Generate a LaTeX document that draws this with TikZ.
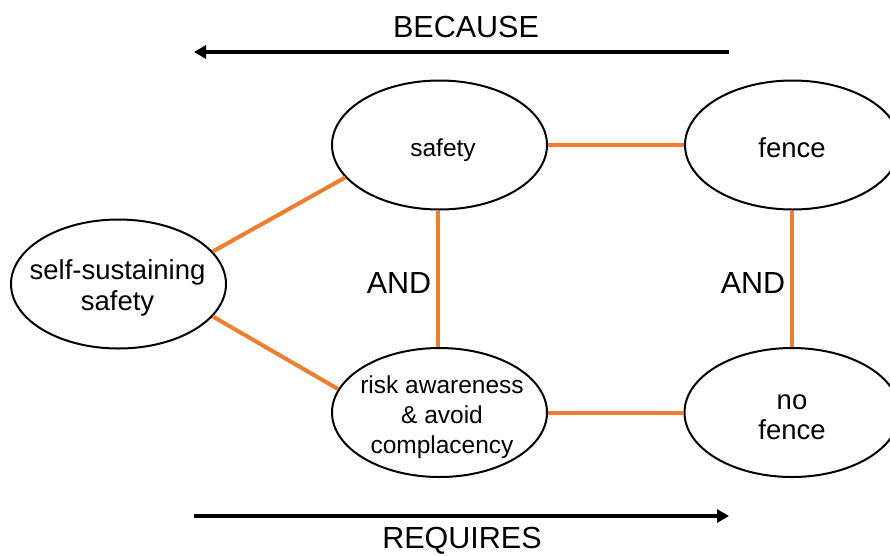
\documentclass[tikz,border=0pt]{standalone}
\usepackage{fontspec}
\setmainfont{Liberation Sans}
\usetikzlibrary{shapes.geometric,arrows.meta}
\definecolor{linkorange}{HTML}{ED7D31}
\begin{document}
\begin{tikzpicture}[x=1pt,y=-1pt,
  oval/.style={ellipse,draw=black,line width=2pt,inner sep=0pt,minimum width=215pt,minimum height=129pt},
  ovaltext/.style={inner sep=0pt,align=center},
  link/.style={draw=linkorange,line width=4pt},
  dirarrow/.style={draw=black,line width=4pt,-{Triangle[length=12pt,width=13pt]}},
  lbl/.style={inner sep=0pt,font=\fontsize{30.5}{34}\selectfont}]
\useasboundingbox (0,0) rectangle (890,555);
\node[oval] (safety) at (439.5,145) {};
\node[oval] (fence) at (792.5,145) {};
\node[oval] (self) at (118.5,284) {};
\node[oval] (risk) at (439.5,412.5) {};
\node[oval] (nofence) at (792,412.5) {};
\node[ovaltext,font=\fontsize{24.5}{29}\selectfont] (tsafety) at (443,150) {safety};
\node[ovaltext,font=\fontsize{27.5}{31}\selectfont] (tfence) at (792,148) {fence};
\node[ovaltext,font=\fontsize{27.5}{31}\selectfont] (tself) at (117.5,287.5) {self-sustaining\\safety};
\node[ovaltext,font=\fontsize{24.5}{30}\selectfont] (trisk) at (442,417) {risk awareness\\\& avoid\\complacency};
\node[ovaltext,font=\fontsize{27.5}{30}\selectfont] (tnofence) at (792,417) {no\\fence};
\draw[link] (self.19) -- (safety.199);
\draw[link] (self.-19.4) -- (risk.167);
\draw[link] (safety.east |- 0,145) -- (fence.west |- 0,145);
\draw[link] (safety.south -| 438,0) -- (risk.north -| 438,0);
\draw[link] (fence.south -| 792,0) -- (nofence.north -| 792,0);
\draw[link] (risk.east |- 0,413) -- (nofence.west |- 0,413);
\node[lbl] (andl) at (399,283) {AND};
\node[lbl] (andr) at (753,283) {AND};
\coordinate (b1) at (729,52);
\coordinate (b2) at (194,52);
\coordinate (r1) at (194,516);
\coordinate (r2) at (729,516);
\draw[dirarrow] (b1) -- (b2);
\draw[dirarrow] (r1) -- (r2);
\node[lbl] (because) at (466,27) {BECAUSE};
\node[lbl] (requires) at (462,541) {REQUIRES};
\end{tikzpicture}
\end{document}
